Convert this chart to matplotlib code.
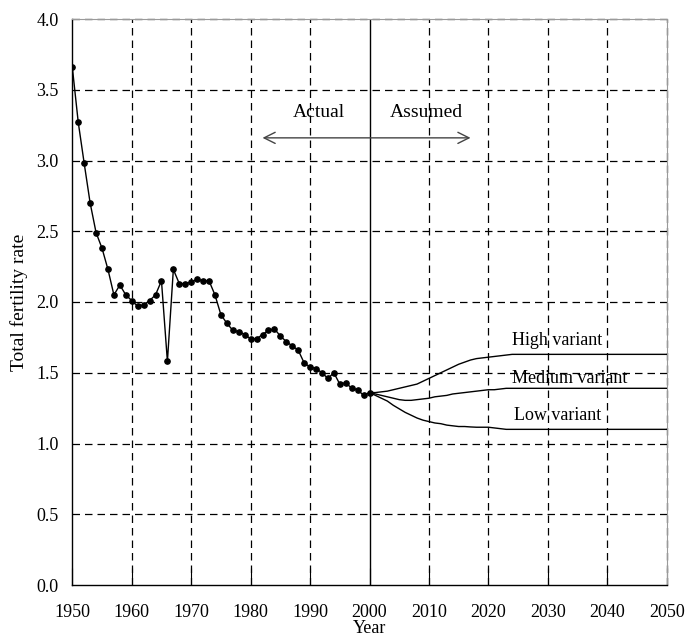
import matplotlib
matplotlib.use("Agg")
import matplotlib.pyplot as plt

plt.rcParams["font.family"] = ["Liberation Serif", "DejaVu Serif"]

# Observed total fertility rate, 1950-2000
actual_years = list(range(1950, 2001))
actual_tfr = [3.66, 3.27, 2.98, 2.70, 2.49, 2.38, 2.23, 2.05, 2.12, 2.05,
              2.01, 1.97, 1.98, 2.01, 2.05, 2.15, 1.58, 2.23, 2.13, 2.13,
              2.14, 2.16, 2.15, 2.15, 2.05, 1.91, 1.85, 1.80, 1.79, 1.77,
              1.74, 1.74, 1.77, 1.80, 1.81, 1.76, 1.72, 1.69, 1.66, 1.57,
              1.54, 1.53, 1.50, 1.46, 1.50, 1.42, 1.43, 1.39, 1.38, 1.34,
              1.36]

# Projection variants, 2000-2050
proj_years = [2000, 2001, 2002, 2003, 2004, 2005, 2006, 2007, 2008, 2009,
              2010, 2011, 2012, 2013, 2014, 2015, 2016, 2017, 2018, 2019,
              2020, 2021, 2022, 2023, 2024, 2025, 2050]
high_tfr = [1.36, 1.36, 1.365, 1.37, 1.38, 1.39, 1.40, 1.41, 1.42, 1.44,
            1.46, 1.48, 1.50, 1.52, 1.54, 1.56, 1.575, 1.59, 1.60, 1.605,
            1.61, 1.615, 1.62, 1.625, 1.63, 1.63, 1.63]
medium_tfr = [1.36, 1.35, 1.34, 1.33, 1.32, 1.31, 1.305, 1.305, 1.31, 1.315,
              1.32, 1.33, 1.335, 1.34, 1.35, 1.355, 1.36, 1.365, 1.37, 1.375,
              1.38, 1.38, 1.385, 1.39, 1.39, 1.39, 1.39]
low_tfr = [1.36, 1.34, 1.32, 1.30, 1.27, 1.245, 1.22, 1.20, 1.18, 1.165,
           1.155, 1.145, 1.14, 1.13, 1.125, 1.12, 1.12, 1.117, 1.115, 1.115,
           1.115, 1.11, 1.105, 1.10, 1.10, 1.10, 1.10]

variant_labels = ["High variant", "Medium variant", "Low variant"]

fig = plt.figure(figsize=(6.87, 6.39), dpi=100)
ax = fig.add_axes([72.3 / 687, 1 - 585 / 639, (666.7 - 72.3) / 687, (585 - 19) / 639])

ax.set_xlim(1950, 2050)
ax.set_ylim(0, 4.0)
ax.set_xticks(range(1950, 2051, 10))
ax.set_yticks([i * 0.5 for i in range(9)])
ax.yaxis.set_major_formatter(matplotlib.ticker.FormatStrFormatter("%.1f"))

# frame: solid left/bottom, faint top/right overlaid with dashed grid
for side in ["top", "right"]:
    ax.spines[side].set_color("#9a9a9a")
    ax.spines[side].set_linewidth(0.8)
ax.spines["left"].set_linewidth(1.0)
ax.spines["bottom"].set_linewidth(1.0)

dash = (0, (6, 4))
for x in range(1960, 2051, 10):
    if x == 2000:
        continue
    ax.axvline(x, color="black", lw=0.9, ls=dash, zorder=1, clip_on=False)
for y in [i * 0.5 for i in range(1, 9)]:
    ax.axhline(y, color="black", lw=0.9, ls=dash, zorder=1, clip_on=False)
ax.axvline(2000, color="black", lw=1.0, zorder=2)

ax.tick_params(axis="x", direction="in", length=12, width=0.8, pad=14, labelsize=13)
ax.tick_params(axis="y", direction="in", length=0, pad=10, labelsize=13)

ax.plot(actual_years, actual_tfr, color="black", lw=1.0, marker="o",
        markersize=3.8, zorder=3)
for vals in (high_tfr, medium_tfr, low_tfr):
    ax.plot(proj_years, vals, color="black", lw=1.0, zorder=3)

ax.text(2031.6, 1.73, variant_labels[0], ha="center", va="center", fontsize=13)
ax.text(2033.6, 1.46, variant_labels[1], ha="center", va="center", fontsize=13)
ax.text(2031.7, 1.20, variant_labels[2], ha="center", va="center", fontsize=13)

ax.annotate("", xy=(1982, 3.16), xytext=(2017, 3.16),
            arrowprops=dict(arrowstyle="<->", color="#444444", lw=1.0,
                            mutation_scale=20, shrinkA=0, shrinkB=0))
ax.text(1991.4, 3.34, "Actual", ha="center", va="center", fontsize=14)
ax.text(2009.5, 3.34, "Assumed", ha="center", va="center", fontsize=14)

ax.set_xlabel("Year", fontsize=13, labelpad=-1)
ax.set_ylabel("Total fertility rate", fontsize=14, labelpad=6)

fig.savefig("out.png", dpi=100)
